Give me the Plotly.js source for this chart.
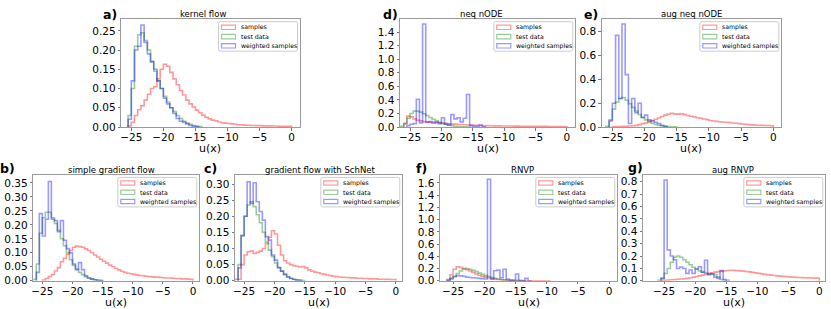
<!DOCTYPE html>
<html><head><meta charset="utf-8">
<script src="https://cdn.plot.ly/plotly-3.0.1.min.js"></script>
<style>body{margin:0;background:#fff}</style>
</head><body><div id="chart" style="width:831px;height:309px"></div>
<script>
// ---------------- data (histogram densities, bins of 0.5 starting at -27) ----------------
const binStart = -27;
const binWidth = 0.5;
const seriesNames = ['samples', 'test data', 'weighted samples'];
const panelTitles = ['kernel flow', 'simple gradient flow', 'gradient flow with SchNet', 'neq nODE', 'aug neq nODE', 'RNVP', 'aug RNVP'];
const panelLetters = ['a)', 'b)', 'c)', 'd)', 'e)', 'f)', 'g)'];
const xTickVals = [-25, -20, -15, -10, -5, 0];
const xLabel = 'u(x)';

const aSamples = [0,0,0,0.003,0.012,0.03,0.045,0.055,0.07,0.085,0.1,0.105,0.125,0.15,0.163,0.158,0.142,0.125,0.11,0.095,0.083,0.07,0.06,0.052,0.044,0.037,0.031,0.025,0.021,0.018,0.016,0.013,0.011,0.01,0.009,0.008,0.007,0.006,0.0055,0.005,0.0045,0.004,0.004,0.0035,0.0035,0.003,0.003,0.0028,0.0025,0.0025,0.002,0.002,0.002,0.0015];
const aTest = [0,0,0,0.03,0.1,0.21,0.24,0.245,0.225,0.2,0.17,0.145,0.12,0.1,0.08,0.065,0.05,0.04,0.03,0.022,0.015,0.01,0.007,0.004,0.002,0.001];
const aWeighted = [0,0,0,0.02,0.12,0.2,0.21,0.265,0.22,0.19,0.17,0.15,0.12,0.1,0.075,0.06,0.05,0.035,0.022,0.015,0.012,0.008,0.004,0.002,0.001];

const bSamples = [0,0,0,0,0.003,0.008,0.015,0.022,0.035,0.047,0.068,0.08,0.095,0.108,0.12,0.124,0.122,0.12,0.114,0.108,0.1,0.092,0.085,0.077,0.07,0.063,0.056,0.05,0.044,0.039,0.034,0.03,0.027,0.025,0.023,0.021,0.019,0.018,0.016,0.015,0.014,0.013,0.013,0.012,0.011,0.01,0.01,0.009,0.008,0.008,0.007,0.007,0.006,0.005];
const bTest = [0,0.005,0.06,0.17,0.225,0.245,0.245,0.225,0.205,0.18,0.15,0.125,0.1,0.075,0.055,0.042,0.03,0.022,0.015,0.01,0.007,0.004,0.002,0.001];
const bWeighted = [0,0,0.03,0.24,0.16,0.22,0.355,0.22,0.215,0.175,0.215,0.145,0.115,0.1,0.06,0.04,0.065,0.04,0.018,0.01,0.006,0.004,0.002,0.001];

const cSamples = [0,0,0.005,0.05,0.08,0.09,0.092,0.085,0.088,0.092,0.1,0.115,0.135,0.155,0.145,0.11,0.08,0.062,0.055,0.05,0.047,0.045,0.043,0.044,0.04,0.034,0.03,0.027,0.025,0.022,0.02,0.018,0.016,0.014,0.013,0.012,0.011,0.01,0.01,0.009,0.009,0.008,0.008,0.007,0.007,0.006,0.006,0.006,0.005,0.005,0.005,0.005,0.004,0.004];
const cTest = [0,0.005,0.05,0.14,0.2,0.235,0.245,0.23,0.205,0.18,0.15,0.12,0.095,0.075,0.055,0.042,0.03,0.02,0.013,0.008,0.005,0.003,0.002,0.001];
const cWeighted = [0,0,0.04,0.14,0.2,0.307,0.24,0.304,0.245,0.215,0.188,0.137,0.126,0.08,0.064,0.04,0.03,0.02,0.012,0.007,0.004,0.002,0.001];

const dSamples = [0,0,0.05,0.16,0.15,0.12,0.1,0.09,0.08,0.075,0.072,0.068,0.065,0.062,0.058,0.054,0.048,0.045,0.042,0.038,0.036,0.033,0.03,0.028,0.026,0.024,0.022,0.021,0.02,0.019,0.018,0.017,0.016,0.015,0.015,0.014,0.014,0.013,0.013,0.012,0.012,0.011,0.011,0.01,0.01,0.01,0.009,0.009,0.008,0.008,0.008,0.007,0.007,0.006];
const dTest = [0,0.01,0.05,0.13,0.2,0.235,0.235,0.22,0.195,0.17,0.14,0.115,0.09,0.07,0.052,0.04,0.028,0.02,0.012,0.007,0.004,0.002,0.001];
const dWeighted = [0,0,0,0.02,0.04,0.05,0.41,0.06,1.52,0.07,0.08,0.06,0.07,0.05,0.136,0.04,0.03,0.185,0.12,0.136,0.075,0.13,0.48,0.02,0.01,0.005,0.03,0.003];

const eSamples = [0,0,0,0,0.002,0.003,0.004,0.005,0.006,0.008,0.01,0.014,0.02,0.028,0.035,0.045,0.055,0.065,0.075,0.088,0.1,0.108,0.115,0.11,0.108,0.11,0.104,0.097,0.09,0.085,0.078,0.073,0.067,0.062,0.055,0.05,0.047,0.044,0.042,0.04,0.037,0.034,0.031,0.028,0.025,0.022,0.02,0.018,0.016,0.015,0.014,0.013,0.012,0.01];
const eTest = [0,0,0.005,0.06,0.15,0.21,0.24,0.248,0.225,0.195,0.165,0.135,0.105,0.08,0.06,0.045,0.032,0.022,0.014,0.009,0.005,0.003,0.002,0.001];
const eWeighted = [0,0,0,0.05,0.2,0.77,0.24,0.865,0.44,0.03,0.24,0.12,0.2,0.08,0.1,0.06,0.05,0.04,0.03,0.015,0.005];

const fSamples = [0,0,0.02,0.1,0.19,0.23,0.22,0.2,0.18,0.16,0.135,0.11,0.09,0.072,0.058,0.046,0.036,0.028,0.021,0.016,0.012,0.009,0.007,0.005,0.004,0.003,0.002,0.002,0.001,0.001,0.001,0.001,0.001,0.001,0.001];
const fTest = [0,0,0.005,0.03,0.07,0.12,0.16,0.195,0.2,0.19,0.17,0.15,0.125,0.105,0.085,0.07,0.055,0.042,0.03,0.022,0.015,0.01,0.007,0.005,0.003,0.002,0.001];
const fWeighted = [0,0,0.005,0.04,0.07,0.085,0.08,0.075,0.06,0.055,0.05,0.045,0.04,0.035,0.03,1.66,0.03,0.165,0.175,0.05,0.19,0.03,0.01,0.01,0.11,0.005,0.005,0.04,0.002];

const gSamples = [0,0,0,0.002,0.004,0.006,0.008,0.01,0.012,0.014,0.016,0.02,0.025,0.03,0.035,0.04,0.046,0.052,0.058,0.064,0.07,0.074,0.078,0.08,0.083,0.085,0.084,0.082,0.08,0.078,0.075,0.072,0.068,0.064,0.06,0.056,0.052,0.049,0.046,0.043,0.04,0.038,0.036,0.034,0.032,0.03,0.028,0.027,0.026,0.025,0.024,0.023,0.022,0.022];
const gTest = [0,0,0.005,0.02,0.06,0.1,0.15,0.19,0.2,0.19,0.17,0.15,0.13,0.11,0.095,0.08,0.07,0.062,0.058,0.055,0.05,0.03,0.01,0.002];
const gWeighted = [0,0,0,0.02,0.815,0.25,0.2,0.17,0.1,0.112,0.1,0.06,0.087,0.06,0.095,0.113,0.07,0.166,0.05,0.055,0.03,0.02,0.082,0.01,0.005];

// ---------------- layout configuration ----------------
const W = 831, H = 309;
const FONT = 'DejaVu Sans, Liberation Sans, sans-serif';
const colors = ['rgba(255,0,0,0.4)', 'rgba(0,128,0,0.4)', 'rgba(0,0,255,0.4)'];

const panels = [
  {series: [aSamples, aTest, aWeighted], box: [121.3, 299.7, 19.3, 127], xr: [-26.56, 1.26], yr: [0, 0.28], dy: 0.05, fmt: '.2f', letter: [110, 14.5], title: [203, 14]},
  {series: [bSamples, bTest, bWeighted], box: [33.3, 199, 175, 280.8], xr: [-26.5, 1.0], yr: [0, 0.378], dy: 0.05, fmt: '.2f', letter: [7.5, 168.5], title: [112, 170]},
  {series: [cSamples, cTest, cWeighted], box: [235, 402, 175, 280.8], xr: [-26.5, 1.0], yr: [0, 0.328], dy: 0.05, fmt: '.2f', letter: [210, 168.5], title: [320, 170]},
  {series: [dSamples, dTest, dWeighted], box: [400, 575, 19.3, 127], xr: [-26.6, 1.3], yr: [0, 1.59], dy: 0.2, fmt: '.1f', letter: [390, 14.5], title: [482, 14]},
  {series: [eSamples, eTest, eWeighted], box: [601.7, 781, 19.3, 127], xr: [-26.65, 1.2], yr: [0, 0.905], dy: 0.2, fmt: '.1f', letter: [591, 14.5], title: [691, 14]},
  {series: [fSamples, fTest, fWeighted], box: [440, 617, 175, 280.8], xr: [-27.1, 1.25], yr: [0, 1.73], dy: 0.2, fmt: '.1f', letter: [421.7, 168.5], title: [522, 170]},
  {series: [gSamples, gTest, gWeighted], box: [643, 825, 175, 280.8], xr: [-28.4, 0.9], yr: [0, 0.855], dy: 0.1, fmt: '.1f', letter: [635, 167.5], title: [733, 170]}
];

const PX = v => v / W;
const PY = v => 1 - v / H;

function stepXY(h) {
  let first = 0;
  while (first < h.length && !(h[first] > 0)) first++;
  let last = h.length - 1;
  while (last >= 0 && !(h[last] > 0)) last--;
  const xs = [], ys = [];
  xs.push(binStart + first * binWidth); ys.push(0);
  for (let i = first; i <= last; i++) { xs.push(binStart + i * binWidth); ys.push(h[i]); }
  xs.push(binStart + (last + 1) * binWidth); ys.push(h[last]);
  xs.push(binStart + (last + 1) * binWidth); ys.push(0);
  return {xs, ys};
}

function roundRect(x0, y0, x1, y1, r) {
  return `M${PX(x0 + r)},${PY(y0)} L${PX(x1 - r)},${PY(y0)} Q${PX(x1)},${PY(y0)} ${PX(x1)},${PY(y0 + r)} ` +
         `L${PX(x1)},${PY(y1 - r)} Q${PX(x1)},${PY(y1)} ${PX(x1 - r)},${PY(y1)} ` +
         `L${PX(x0 + r)},${PY(y1)} Q${PX(x0)},${PY(y1)} ${PX(x0)},${PY(y1 - r)} ` +
         `L${PX(x0)},${PY(y0 + r)} Q${PX(x0)},${PY(y0)} ${PX(x0 + r)},${PY(y0)} Z`;
}

const traces = [];
const layout = {
  width: W, height: H,
  margin: {l: 0, r: 0, t: 0, b: 0},
  paper_bgcolor: '#ffffff', plot_bgcolor: '#ffffff',
  showlegend: false,
  font: {family: FONT, color: '#000'},
  shapes: [], annotations: []
};

panels.forEach((p, k) => {
  const n = k + 1;
  const xa = n === 1 ? 'x' : 'x' + n;
  const ya = n === 1 ? 'y' : 'y' + n;
  const [bx0, bx1, by0, by1] = p.box;

  p.series.forEach((h, s) => {
    const st = stepXY(h);
    traces.push({
      type: 'scatter', mode: 'lines', x: st.xs, y: st.ys,
      xaxis: xa, yaxis: ya, name: seriesNames[s],
      line: {shape: 'hv', color: colors[s], width: 1.6},
      hoverinfo: 'skip'
    });
  });

  const yTicks = [];
  for (let v = 0; v <= p.yr[1] + 1e-9; v += p.dy) yTicks.push(+v.toFixed(3));

  layout[n === 1 ? 'xaxis' : 'xaxis' + n] = {
    domain: [PX(bx0), PX(bx1)], anchor: ya, range: p.xr,
    tickmode: 'array', tickvals: xTickVals,
    showgrid: false, zeroline: false,
    showline: true, mirror: true, linecolor: '#9a9a9a', linewidth: 1,
    ticks: 'outside', ticklen: 2.5, tickwidth: 1, tickcolor: '#777',
    ticklabelstandoff: -2,
    tickfont: {family: FONT, size: 10.5, color: '#000'}
  };
  layout[n === 1 ? 'yaxis' : 'yaxis' + n] = {
    domain: [PY(by1), PY(by0)], anchor: xa, range: p.yr,
    tickmode: 'array', tickvals: yTicks, tickformat: p.fmt,
    showgrid: false, zeroline: false,
    showline: true, mirror: true, linecolor: '#9a9a9a', linewidth: 1,
    ticks: 'outside', ticklen: 2.5, tickwidth: 1, tickcolor: '#777',
    tickfont: {family: FONT, size: 10.5, color: '#000'}
  };

  // x-axis label
  layout.annotations.push({
    xref: 'paper', yref: 'paper', x: PX((bx0 + bx1) / 2), y: PY(by1 + 21.3),
    xanchor: 'center', yanchor: 'middle', showarrow: false, borderpad: 0,
    text: xLabel, font: {family: FONT, size: 11, color: '#000'}
  });
  // panel title
  layout.annotations.push({
    xref: 'paper', yref: 'paper', x: PX(p.title[0]), y: PY(p.title[1]),
    xanchor: 'center', yanchor: 'middle', showarrow: false, borderpad: 0,
    text: panelTitles[k], font: {family: FONT, size: 8.5, color: '#000'}
  });
  // panel letter
  layout.annotations.push({
    xref: 'paper', yref: 'paper', x: PX(p.letter[0]), y: PY(p.letter[1]),
    xanchor: 'center', yanchor: 'middle', showarrow: false, borderpad: 0,
    text: '<b>' + panelLetters[k] + '</b>', font: {family: FONT, size: 12.5, color: '#000'}
  });

  // legend (matplotlib-like, upper right inside axes)
  const lr = bx1 - 2.2, ll = lr - 79, lt = by0 + 2.4, lb = lt + 29.5;
  layout.shapes.push({
    type: 'path', xref: 'paper', yref: 'paper', path: roundRect(ll, lt, lr, lb, 2),
    line: {color: '#cccccc', width: 1}, fillcolor: 'rgba(255,255,255,0.8)', layer: 'above'
  });
  const rows = [lt + 5.6, lt + 14.9, lt + 24.1];
  seriesNames.forEach((name, s) => {
    layout.shapes.push({
      type: 'rect', xref: 'paper', yref: 'paper',
      x0: PX(ll + 3), x1: PX(ll + 17), y0: PY(rows[s] + 2.2), y1: PY(rows[s] - 2.2),
      line: {color: colors[s], width: 1.2}, fillcolor: 'rgba(0,0,0,0)', layer: 'above'
    });
    layout.annotations.push({
      xref: 'paper', yref: 'paper', x: PX(ll + 21), y: PY(rows[s]),
      xanchor: 'left', yanchor: 'middle', showarrow: false, borderpad: 0,
      text: name, font: {family: FONT, size: 6.2, color: '#000'}
    });
  });
});

Plotly.newPlot('chart', traces, layout, {staticPlot: true, displayModeBar: false});
</script>
</body></html>
